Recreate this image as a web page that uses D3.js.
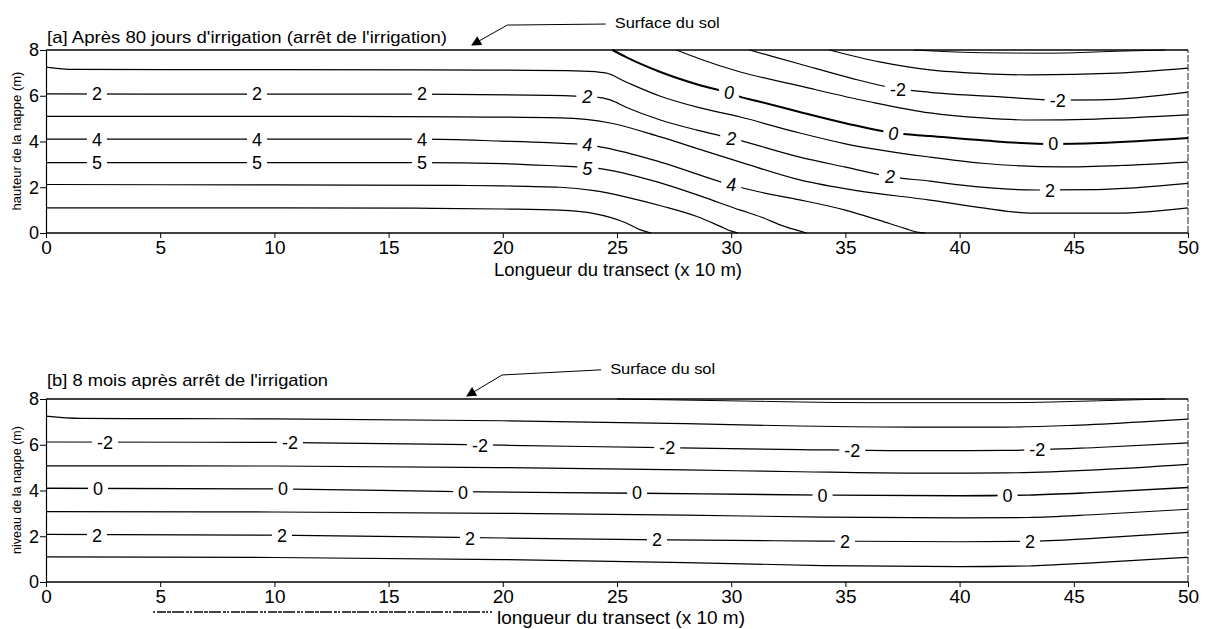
<!DOCTYPE html>
<html>
<head>
<meta charset="utf-8">
<script src="https://cdn.jsdelivr.net/npm/d3@7"></script>
<style>
  body { margin: 0; background: #fff; }
  svg { font-family: "Liberation Sans", Arial, sans-serif; }
</style>
</head>
<body>
<div id="chart"></div>
<script>
// axis ticks
var xTicks = [0, 5, 10, 15, 20, 25, 30, 35, 40, 45, 50];
var yTicks = [0, 2, 4, 6, 8];

// [a] contour lines, points are [distance (x 10 m), height (m)]
var a_surface = [[0, 8], [50, 8]];
var a_topDip  = [[38, 8], [41, 7.88], [44, 7.86], [47, 7.95], [49, 8]];
var a_m3   = [[34.3, 8], [36.5, 7.48], [38.7, 7.13], [41, 6.97], [43.1, 6.91], [46.9, 6.99], [50, 7.21]];
var a_m2   = [[30.8, 8], [33, 7.39], [35.2, 6.78], [37.3, 6.3], [38.7, 6.15], [41.8, 5.95], [44.3, 5.81], [46.1, 5.82], [50, 6.16]];
var a_m1   = [[27.6, 8], [28.6, 7.62], [30.4, 7.04], [33, 6.43], [36, 5.75], [38.7, 5.25], [41, 5.03], [43.1, 4.94], [46, 4.98], [50, 5.16]];
var a_zero = [[24.8, 8], [25.4, 7.69], [26.9, 7.04], [28.6, 6.47], [29.9, 6.12], [30.4, 5.95], [31.3, 5.73], [33, 5.29], [35, 4.8], [37.1, 4.37], [38.7, 4.24], [41, 4.05], [44.1, 3.89], [46.1, 3.93], [50, 4.15]];
var a_l72  = [[0, 7.25], [1.2, 7.15], [10, 7.14], [20, 7.12], [23.5, 7.08], [24.5, 7.0], [25.4, 6.6], [26.9, 5.98], [28.6, 5.48], [30.4, 5.07], [33, 4.37], [35, 3.9], [38.7, 3.32], [41, 3.05], [44.5, 2.89], [47, 2.95], [50, 3.1]];
var a_l61  = [[0, 6.08], [10, 6.07], [16.5, 6.07], [22, 6.02], [24, 5.95], [24.7, 5.82], [25.4, 5.5], [26.9, 4.94], [28.5, 4.5], [30, 4.15], [33, 3.32], [35, 2.88], [37, 2.45], [38.7, 2.27], [40, 2.1], [43.4, 1.88], [46, 1.9], [50, 2.17]];
var a_l51  = [[0, 5.1], [10, 5.1], [18, 5.08], [22.5, 5.03], [24.7, 4.81], [26.9, 4.2], [28.8, 3.6], [30.4, 3.1], [33, 2.32], [35.5, 1.85], [38.7, 1.44], [41, 1.1], [43.2, 0.87], [46.9, 0.87], [50, 1.1]];
var a_l41  = [[0, 4.1], [10, 4.1], [16.5, 4.1], [19.9, 4.02], [22, 3.95], [23.7, 3.85], [24.5, 3.72], [26.9, 3.1], [30, 2.1], [31.3, 1.78], [33, 1.45], [35, 1.0], [36.5, 0.55], [37.6, 0.2], [38.2, 0.03], [38.5, 0]];
var a_l31  = [[0, 3.08], [10, 3.08], [16.5, 3.08], [20, 3.03], [22, 2.95], [24.1, 2.84], [26.9, 2.19], [28.7, 1.6], [30.4, 1.0], [31.3, 0.7], [32.3, 0.3], [33.3, 0]];
var a_l21  = [[0, 2.12], [10, 2.1], [18, 2.08], [20, 2.06], [22.5, 2.0], [24, 1.85], [25.5, 1.55], [27, 1.17], [28.5, 0.72], [29.5, 0.3], [30, 0.08], [30.3, 0]];
var a_l11  = [[0, 1.1], [10, 1.1], [17, 1.08], [20, 1.05], [22.5, 1.0], [23.9, 0.87], [25.4, 0.44], [26, 0.15], [26.5, 0]];
var a_bottom = [[0, 0], [50, 0]];

// [a] contour labels: [x, y, text, italic]
var a_labels = [
  [2.23, 6.08, '2'], [9.24, 6.08, '2'], [16.46, 6.08, '2'],
  [2.23, 4.1, '4'], [9.24, 4.1, '4'], [16.46, 4.1, '4'],
  [2.23, 3.08, '5'], [9.24, 3.08, '5'], [16.46, 3.08, '5'],
  [23.7, 5.95, '2', 1], [23.7, 3.85, '4', 1], [23.7, 2.84, '5', 1],
  [29.9, 6.12, '0', 1], [30.0, 4.15, '2', 1], [30.0, 2.1, '4', 1],
  [37.3, 6.28, '-2'], [37.1, 4.37, '0', 1], [36.95, 2.45, '2', 1],
  [44.3, 5.81, '-2'], [44.1, 3.89, '0'], [43.96, 1.84, '2']
];

// [b] contour lines
var b_surface = [[0, 8], [50, 8]];
var b_topDip  = [[25, 8], [30, 7.92], [36, 7.84], [42, 7.84], [46, 7.92], [49, 8]];
var b_l72 = [[0, 7.25], [1.5, 7.15], [10, 7.13], [20, 7.05], [28, 6.92], [33, 6.82], [38, 6.77], [42, 6.77], [45, 6.85], [48, 7.0], [50, 7.12]];
var b_l61 = [[0, 6.12], [10, 6.1], [20, 5.98], [27, 5.87], [33, 5.79], [38, 5.74], [42, 5.75], [46, 5.88], [50, 6.08]];
var b_l51 = [[0, 5.08], [10, 5.07], [20, 5.0], [28, 4.9], [33, 4.82], [38, 4.76], [42, 4.77], [46, 4.9], [50, 5.14]];
var b_l41 = [[0, 4.1], [10, 4.07], [18, 3.95], [26, 3.88], [34, 3.8], [40, 3.77], [43, 3.8], [46, 3.92], [50, 4.13]];
var b_l31 = [[0, 3.08], [10, 3.06], [20, 3.0], [28, 2.92], [34, 2.84], [40, 2.8], [43, 2.82], [46, 2.95], [50, 3.18]];
var b_l21 = [[0, 2.08], [10, 2.05], [18, 1.95], [26, 1.85], [34, 1.79], [40, 1.76], [43, 1.78], [46, 1.92], [50, 2.17]];
var b_l11 = [[0, 1.1], [10, 1.07], [20, 0.98], [28, 0.85], [34, 0.72], [40, 0.67], [43, 0.7], [46, 0.85], [50, 1.08]];
var b_bottom = [[0, 0], [50, 0]];

var b_labels = [
  [2.58, 6.08, '-2'], [10.68, 6.08, '-2'], [19.0, 5.95, '-2'], [27.2, 5.86, '-2'], [35.3, 5.73, '-2'], [43.4, 5.77, '-2'],
  [2.28, 4.07, '0'], [10.38, 4.07, '0'], [18.26, 3.93, '0'], [25.88, 3.89, '0'], [34.0, 3.8, '0'], [42.1, 3.8, '0'],
  [2.23, 2.05, '2'], [10.33, 2.05, '2'], [18.56, 1.92, '2'], [26.75, 1.84, '2'], [34.98, 1.79, '2'], [43.08, 1.79, '2']
];

var width = 1206, height = 629;

var svg = d3.select('#chart').append('svg')
  .attr('width', width)
  .attr('height', height);

svg.append('defs').append('marker')
  .attr('id', 'arrow')
  .attr('viewBox', '0 0 10 10')
  .attr('refX', 9).attr('refY', 5)
  .attr('markerWidth', 13).attr('markerHeight', 10)
  .attr('markerUnits', 'userSpaceOnUse')
  .attr('orient', 'auto')
  .append('path')
  .attr('d', 'M0,0 L10,5 L0,10 Z')
  .attr('fill', '#000');

var x = d3.scaleLinear().domain([0, 50]).range([46, 1188]);

/**
 * Draws one contour panel.
 */
function panel(cfg) {
  var y = d3.scaleLinear().domain([0, 8]).range([cfg.bottom, cfg.bottom - 183]);
  var g = svg.append('g');

  var line = d3.line()
    .x(function(d) { return x(d[0]); })
    .y(function(d) { return y(d[1]); })
    .curve(d3.curveMonotoneX);

  // right border, dashed like the scan
  g.append('line')
    .attr('x1', x(50)).attr('x2', x(50))
    .attr('y1', y(0)).attr('y2', y(8))
    .attr('stroke', '#222').attr('stroke-width', 1)
    .attr('stroke-dasharray', '7,2');

  cfg.lines.forEach(function(l) {
    g.append('path')
      .attr('d', line(l.pts))
      .attr('fill', 'none')
      .attr('stroke', '#000')
      .attr('stroke-width', l.w || 1.2);
  });

  // axes
  var ax = g.append('g')
    .attr('transform', 'translate(0,' + y(0) + ')')
    .call(d3.axisBottom(x).tickValues(xTicks).tickSize(5).tickSizeOuter(0).tickPadding(3));
  ax.select('.domain').remove();
  ax.selectAll('text').attr('font-size', '19px').attr('font-family', null);

  var ay = g.append('g')
    .attr('transform', 'translate(' + x(0) + ',0)')
    .call(d3.axisLeft(y).tickValues(yTicks).tickSize(6).tickSizeOuter(0).tickPadding(1));
  ay.selectAll('text').attr('font-size', '18px').attr('font-family', null);
  ay.select('.domain').attr('stroke-width', 1.2);

  // contour labels
  cfg.labels.forEach(function(d) {
    var lg = g.append('g');
    var t = lg.append('text')
      .attr('x', x(d[0]))
      .attr('y', y(d[1]))
      .attr('dy', '0.36em')
      .attr('text-anchor', 'middle')
      .attr('font-size', '18px')
      .attr('font-style', d[3] ? 'italic' : 'normal')
      .text(d[2]);
    var b = t.node().getBBox();
    lg.insert('rect', 'text')
      .attr('x', b.x - 5).attr('y', b.y + 1)
      .attr('width', b.width + 10).attr('height', b.height - 2)
      .attr('fill', '#fff');
  });

  // title
  g.append('text')
    .attr('x', 47).attr('y', cfg.bottom - cfg.titleDy)
    .attr('font-size', '17px')
    .attr('textLength', cfg.titleLen)
    .attr('lengthAdjust', 'spacingAndGlyphs')
    .text(cfg.title);

  // surface annotation
  g.append('text')
    .attr('x', x(cfg.note[2][0])).attr('y', y(cfg.note[2][1]))
    .attr('font-size', '15.5px')
    .attr('textLength', 105)
    .attr('lengthAdjust', 'spacingAndGlyphs')
    .text('Surface du sol');
  g.append('path')
    .attr('d', 'M' + (x(cfg.note[2][0]) - 9) + ',' + (y(cfg.note[2][1]) - 4) +
               'L' + x(cfg.note[1][0]) + ',' + y(cfg.note[1][1]) +
               'L' + x(cfg.note[0][0]) + ',' + y(cfg.note[0][1]))
    .attr('fill', 'none')
    .attr('stroke', '#000')
    .attr('stroke-width', 1)
    .attr('marker-end', 'url(#arrow)');

  // axis titles
  g.append('text')
    .attr('x', cfg.xTitleX).attr('y', cfg.bottom + cfg.xTitleDy)
    .attr('text-anchor', 'middle')
    .attr('font-size', '17.5px')
    .attr('textLength', 248)
    .attr('lengthAdjust', 'spacingAndGlyphs')
    .text(cfg.xTitle);
  g.append('text')
    .attr('transform', 'translate(21,' + (cfg.bottom - 92) + ') rotate(-90)')
    .attr('text-anchor', 'middle')
    .attr('font-size', cfg.yTitleSize)
    .text(cfg.yTitle);

  return y;
}

panel({
  bottom: 233,
  title: "[a] Après 80 jours d'irrigation (arrêt de l'irrigation)",
  titleDy: 190,
  titleLen: 400,
  xTitle: 'Longueur du transect (x 10 m)',
  xTitleX: 618,
  xTitleDy: 43,
  yTitle: 'hauteur de la nappe (m)',
  yTitleSize: '13px',
  note: [[18.65, 8.22], [20.2, 9.09], [24.9, 8.96]],
  labels: a_labels,
  lines: [
    { pts: a_surface, w: 1.4 }, { pts: a_topDip, w: 1 },
    { pts: a_m3 }, { pts: a_m2 }, { pts: a_m1 },
    { pts: a_zero, w: 2.0 },
    { pts: a_l72 }, { pts: a_l61 }, { pts: a_l51 }, { pts: a_l41 },
    { pts: a_l31 }, { pts: a_l21 }, { pts: a_l11 },
    { pts: a_bottom, w: 1.4 }
  ]
});

panel({
  bottom: 582,
  title: "[b] 8 mois après arrêt de l'irrigation",
  titleDy: 196,
  titleLen: 281,
  xTitle: 'longueur du transect (x 10 m)',
  xTitleX: 621,
  xTitleDy: 42,
  yTitle: 'niveau de la nappe (m)',
  yTitleSize: '12.5px',
  note: [[18.43, 8.13], [19.97, 9.05], [24.7, 9.1]],
  labels: b_labels,
  lines: [
    { pts: b_surface, w: 1.4 }, { pts: b_topDip, w: 1 },
    { pts: b_l72 }, { pts: b_l61 }, { pts: b_l51 }, { pts: b_l41, w: 1.4 },
    { pts: b_l31 }, { pts: b_l21 }, { pts: b_l11 },
    { pts: b_bottom, w: 1.4 }
  ]
});

// scan noise left of the lower axis title
svg.append('line')
  .attr('x1', 153).attr('x2', 492)
  .attr('y1', 612).attr('y2', 612)
  .attr('stroke', '#444')
  .attr('stroke-width', 1.8)
  .attr('stroke-dasharray', '2,2,9,1,4,1,12,2,3,1');
</script>
</body>
</html>
